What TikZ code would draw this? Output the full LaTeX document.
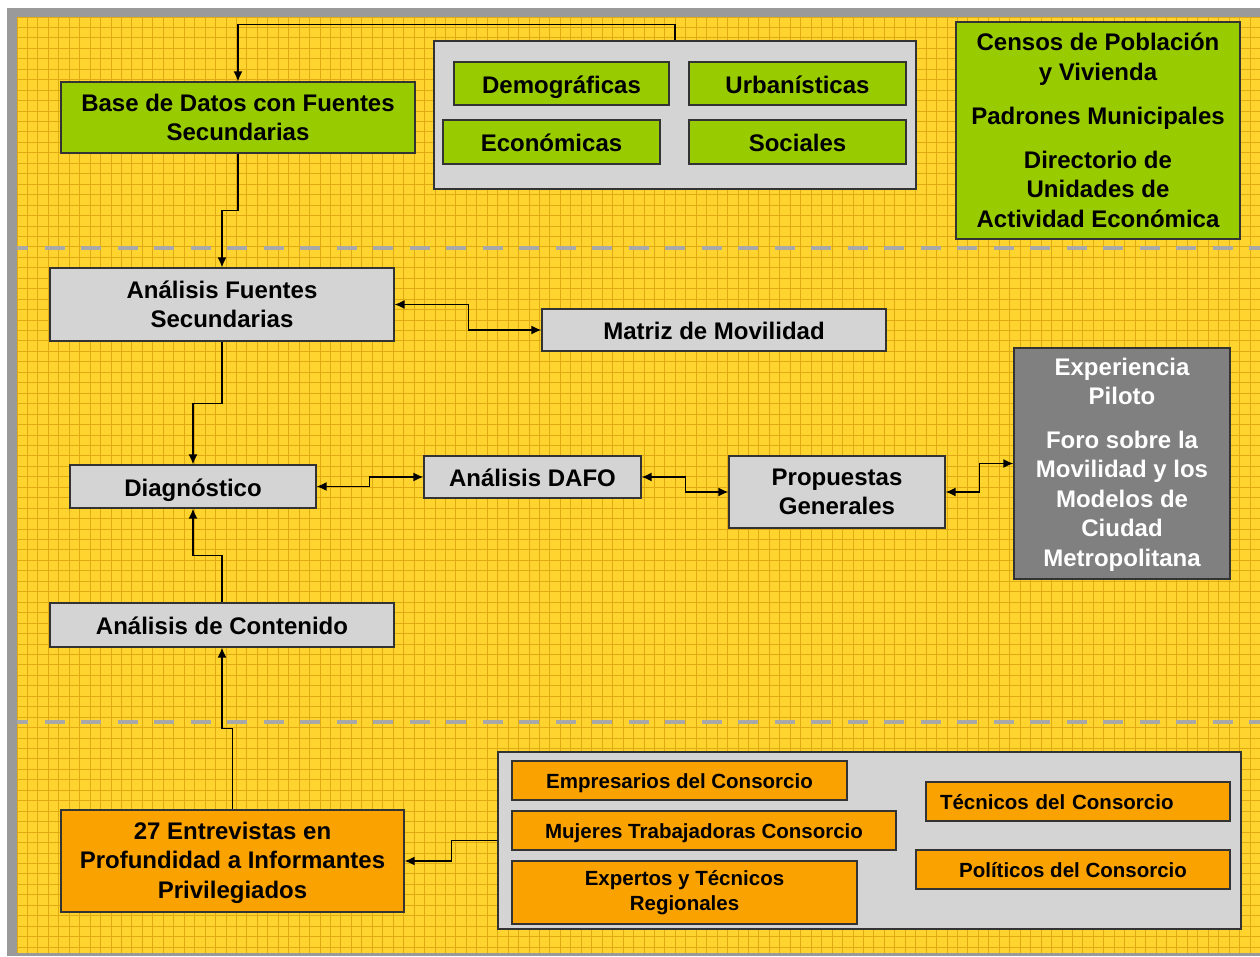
\documentclass[tikz,border=0pt]{standalone}
\usepackage{fontspec}
\setmainfont{Liberation Sans}
\usetikzlibrary{arrows.meta,calc}
\definecolor{bgyellow}{HTML}{FFD42E}
\definecolor{gridc}{HTML}{DFAA12}
\definecolor{framegray}{HTML}{9A9A9A}
\definecolor{sepgray}{HTML}{A8A8A8}
\definecolor{boxgreen}{HTML}{99CC00}
\definecolor{boxlight}{HTML}{D4D4D4}
\definecolor{boxdark}{HTML}{808080}
\definecolor{boxorange}{HTML}{FAA200}
\begin{document}
\begin{tikzpicture}[x=1pt,y=-1pt,
  base/.style={draw=black!80, line width=1.3pt, inner sep=0pt, align=center,
    font=\bfseries\fontsize{24}{29.5}\selectfont},
  one/.style={text height=24pt, text depth=5pt},
  gbox/.style={base, fill=boxgreen},
  lbox/.style={base, fill=boxlight},
  dbox/.style={base, fill=boxdark, text=white},
  obox/.style={base, fill=boxorange},
  sbox/.style={base, fill=boxorange, font=\bfseries\fontsize{20.5}{25}\selectfont},
  sone/.style={text height=20pt, text depth=5pt},
  cont/.style={draw=black!80, line width=1.3pt, fill=boxlight, inner sep=0pt},
  conn/.style={draw=black, line width=1.4pt},
  arr/.style={conn, -{Latex[length=10pt,width=9pt]}},
  arrboth/.style={conn, {Latex[length=10pt,width=9pt]}-{Latex[length=10pt,width=9pt]}},
  sepline/.style={draw=sepgray, line width=4.5pt, dash pattern=on 20pt off 16.5pt, dash phase=9pt}
]
\useasboundingbox (0,0) rectangle (1260,956);
% background and frame
\fill[white] (0,0) rectangle (1260,956);
\fill[framegray] (7,8) rectangle (1260,956);
\fill[bgyellow] (17,17) rectangle (1260,953);
\foreach \i in {0,...,119} {
  \draw[gridc, line width=1pt] (17+\i*10.45,17) -- (17+\i*10.45,953);
}
\foreach \j in {0,...,89} {
  \draw[gridc, line width=1pt] (17,17+\j*10.45) -- (1260,17+\j*10.45);
}
% separators
\draw[sepline] (17,248) -- (1260,248);
\draw[sepline] (17,722) -- (1260,722);

% top band
\node[gbox, minimum width=354pt, minimum height=71pt] (db) at (238,117.5)
  {Base de Datos con Fuentes\\Secundarias};
\node[cont, minimum width=482pt, minimum height=148pt] (c1) at (675,115) {};
\node[gbox, one, minimum width=215pt, minimum height=43pt] (demo) at (561.5,83.5) {Demográficas};
\node[gbox, one, minimum width=217pt, minimum height=43pt] (urb) at (797.5,83.5) {Urbanísticas};
\node[gbox, one, minimum width=217pt, minimum height=44pt] (econ) at (551.5,142) {Económicas};
\node[gbox, one, minimum width=217pt, minimum height=44pt] (soc) at (797.5,142) {Sociales};
\node[gbox, minimum width=284pt, minimum height=217pt] (censos) at (1098,130.5)
  {Censos de Población\\y Vivienda\\[14.5pt]Padrones Municipales\\[14.5pt]Directorio de\\Unidades de\\Actividad Económica};

% middle band
\node[lbox, minimum width=344pt, minimum height=73pt] (afs) at (222,304.5)
  {Análisis Fuentes\\Secundarias};
\node[lbox, one, minimum width=344pt, minimum height=42pt] (mat) at (714,330) {Matriz de Movilidad};
\node[lbox, one, minimum width=246pt, minimum height=43pt] (diag) at (193,486.5) {Diagnóstico};
\node[lbox, one, minimum width=217pt, minimum height=42pt] (dafo) at (532.5,477) {Análisis DAFO};
\node[lbox, minimum width=216pt, minimum height=72pt] (prop) at (837,492) {Propuestas\\Generales};
\node[dbox, minimum width=216pt, minimum height=231pt] (exp) at (1122,463.5)
  {\begin{minipage}{210pt}\centering\vspace*{2pt}Experiencia\\Piloto\\[14pt]Foro sobre la\\Movilidad y los\\Modelos de\\Ciudad\\Metropolitana\end{minipage}};
\node[lbox, one, minimum width=344pt, minimum height=44pt] (adc) at (222,625) {Análisis de Contenido};

% bottom band
\node[obox, minimum width=343pt, minimum height=102pt] (ent) at (232.5,861)
  {\begin{minipage}{340pt}\centering\vspace*{3pt}27 Entrevistas en\\Profundidad a Informantes\\Privilegiados\end{minipage}};
\node[cont, minimum width=743pt, minimum height=177pt] (c2) at (869.5,840.5) {};
\node[sbox, sone, minimum width=335pt, minimum height=39pt] (emp) at (679.5,780.5) {Empresarios del Consorcio};
\node[sbox, sone, minimum width=384pt, minimum height=39pt] (muj) at (704,830.5) {Mujeres Trabajadoras Consorcio};
\node[sbox, minimum width=345pt, minimum height=63pt] (expt) at (684.5,892.5) {Expertos y Técnicos\\Regionales};
\node[sbox, sone, minimum width=304pt, minimum height=39pt, text width=276pt, align=left] (tec) at (1078,801.5) {Técnicos del Consorcio};
\node[sbox, sone, minimum width=314pt, minimum height=39pt] (pol) at (1073,869.5) {Políticos del Consorcio};

% connectors
\draw[arr] (c1.north) -- ++(0,-16) -| (db.north);
\draw[arr] (db.south) -- ++(0,57) -| (afs.north);
\draw[arrboth] (afs.east) -- ++(74,0) |- (mat.west);
\draw[arr] (afs.south) -- ++(0,62) -| (diag.north);
\draw[arrboth] (diag.east) -- ++(53,0) |- (dafo.west);
\draw[arrboth] (dafo.east) -- ++(44,0) |- (prop.west);
\draw[arrboth] (prop.east) -- ++(34,0) |- (exp.west);
\draw[arr] (adc.north) -- ++(0,-47) -| (diag.south);
\draw[arr] (ent.north) -- ++(0,-81) -| (adc.south);
\draw[arr] (c2.west) -- ++(-46,0) |- (ent.east);
\end{tikzpicture}
\end{document}
